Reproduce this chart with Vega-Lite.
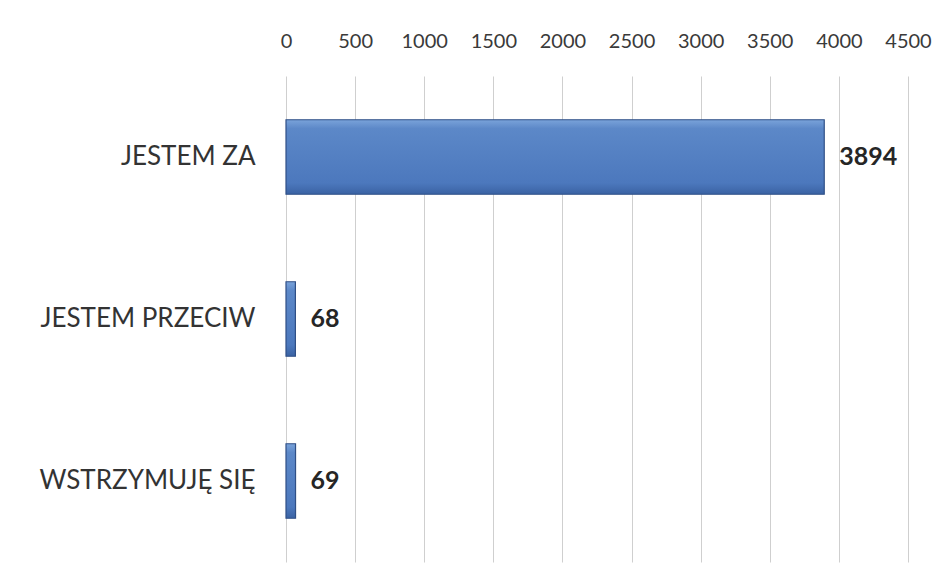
{
  "$schema": "https://vega.github.io/schema/vega-lite/v6.json",
  "autosize": {"type": "none"},
  "width": 622,
  "height": 486,
  "padding": {"left": 286, "top": 76, "right": 39, "bottom": 21},
  "background": "white",
  "data": {"values": [
    {"odpowiedz": "JESTEM ZA", "glosy": 3894},
    {"odpowiedz": "JESTEM PRZECIW", "glosy": 68},
    {"odpowiedz": "WSTRZYMUJĘ SIĘ", "glosy": 69}
  ]},
  "encoding": {
    "y": {
      "field": "odpowiedz", "type": "nominal", "sort": null,
      "scale": {"paddingInner": 0.54, "paddingOuter": 0.27},
      "axis": {"title": null, "ticks": false, "domain": false, "labelPadding": 31,
               "labelFont": "Lato", "labelFontSize": 26, "labelColor": "#333333", "labelLimit": 300}
    },
    "x": {
      "field": "glosy", "type": "quantitative",
      "scale": {"domain": [0, 4500], "nice": false},
      "axis": {"orient": "top", "title": null, "values": [0,500,1000,1500,2000,2500,3000,3500,4000,4500],
               "format": "d", "ticks": false, "domain": false, "labelPadding": 25, "labelFont": "Lato", "labelFontSize": 20,
               "labelColor": "#3a3a3a", "grid": true, "gridColor": "#cfcfcf", "gridWidth": 1, "labelFlush": false}
    }
  },
  "layer": [
    {
      "mark": {"type": "bar", "stroke": "#2f4f86", "strokeWidth": 1.2,
        "color": {"gradient": "linear", "x1": 0, "y1": 0, "x2": 0, "y2": 1,
          "stops": [{"offset": 0, "color": "#7aa3da"}, {"offset": 0.12, "color": "#5c88c8"}, {"offset": 0.85, "color": "#4c78bd"}, {"offset": 1, "color": "#3a62a3"}]}}
    },
    {
      "mark": {"type": "text", "align": "left", "baseline": "middle", "dx": 15, "font": "Lato",
               "fontSize": 25, "fontWeight": "bold", "color": "#262626"},
      "encoding": {"text": {"field": "glosy", "type": "quantitative"}}
    }
  ],
  "config": {"view": {"stroke": null}}
}
